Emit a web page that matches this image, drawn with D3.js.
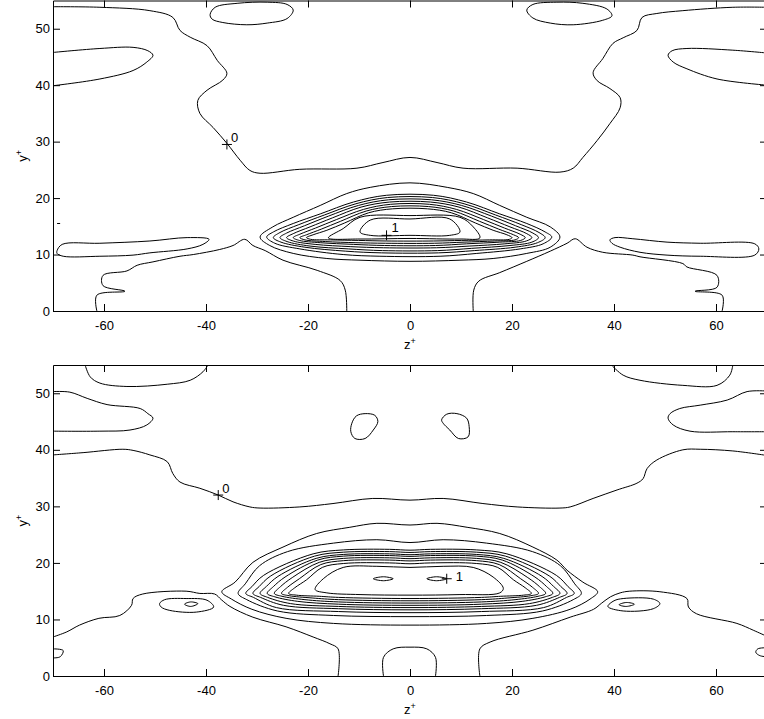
<!DOCTYPE html>
<html>
<head>
<meta charset="utf-8">
<script src="https://cdn.jsdelivr.net/npm/d3@7"></script>
<style>
body { margin: 0; background: #fff; }
svg { display: block; font-family: "Liberation Sans", Arial, sans-serif; }
.contour { fill: none; stroke: #000; stroke-width: 1; }
</style>
</head>
<body>
<div id="main"></div>
<script>
// axes
const zDomain = [-70, 70];
const yDomain = [0, 55];
const zTicks = [-60, -40, -20, 0, 20, 40, 60];
const yTicks = [0, 10, 20, 30, 40, 50];

// ---------- upper panel contours, [z+, y+] ----------
const t0Upper = [[-70,53.9],[-60.8,53.8],[-51.0,53.2],[-46.5,52.0],[-45.1,49.7],[-43.1,48.5],[-39.8,47.0],[-37.8,44.4],[-35.9,42.1],[-36.7,40.9],[-39.8,39.1],[-41.6,37.3],[-41.2,35.0],[-38.6,32.5],[-35.9,29.7],[-33.3,26.7],[-31.4,24.9],[-29.4,24.4],[-21.6,25.1],[-10.4,25.3],[-5.3,26.3],[0,27.2],[5.3,26.3],[10.4,25.3],[21.0,25.3],[29.4,24.6],[32.0,25.3],[33.9,27.2],[36.7,30.2],[39.2,33.2],[41.2,36.0],[41.2,37.8],[39.2,39.4],[36.7,40.8],[35.9,42.2],[37.8,44.7],[39.8,47.4],[41.8,48.4],[44.5,49.7],[45.5,52.0],[48.4,52.7],[53.5,53.2],[63.3,53.8],[70,53.8]];
const t0LowLeft = [[-61.4,0],[-61.4,2.8],[-55.9,3.5],[-60.2,4.5],[-60.2,6.3],[-55.5,7.1],[-53.5,8.1],[-50.4,8.7],[-45.1,9.7],[-42.5,10.0],[-37.3,10.9],[-34.7,11.6],[-32.4,12.7],[-30.8,11.6],[-28.4,10.7],[-24.9,9.0],[-18.2,7.2],[-13.7,5.4],[-12.7,3.7],[-12.4,0]];
const t0LowRight = [[12.4,0],[12.5,3.7],[13.5,5.3],[17.6,6.8],[22.9,8.8],[27.5,10.6],[30.8,12.0],[32.4,12.8],[34.7,11.3],[37.8,10.4],[43.7,9.9],[45.1,9.6],[53.5,8.4],[54.3,7.8],[60.2,6.3],[60.2,4.2],[55.9,3.5],[61.2,2.8],[61.2,0]];
const tLobeLeft = [[-70,45.8],[-60.8,46.5],[-54.3,46.7],[-51.4,46.1],[-50.4,45.3],[-51.6,44.1],[-54.3,42.6],[-60.8,41.1],[-70,39.9]];
const tLobeRight = [[70,45.7],[63.3,46.2],[54.3,46.5],[51.4,46.1],[50.6,45.3],[51.6,44.1],[54.3,42.9],[60.2,41.1],[70,40.0]];
const tDash = [[-69.2,15.5],[-68.6,15.5]];
const tCapLeft = [[-39.2,52.5],[-38.2,53.8],[-33.9,54.5],[-28.0,54.7],[-24.1,54.3],[-22.9,53.3],[-24.1,51.8],[-28.0,51.0],[-32.0,50.7],[-36.7,51.1],[-38.8,51.7]];
const tCapRight = [[22.9,53.3],[24.1,54.3],[28.8,54.7],[33.9,54.5],[38.6,53.5],[39.6,52.3],[37.8,51.5],[32.0,50.7],[27.5,51.0],[24.1,51.9]];
const tStreakLeft = [[-69.2,10.7],[-68.2,11.8],[-60.8,12.0],[-51.0,12.4],[-43.7,13.0],[-39.4,12.7],[-40.6,11.8],[-43.7,11.0],[-51.0,10.3],[-54.3,9.9],[-60.8,9.7],[-68.0,9.7],[-69.2,10.2]];
const tStreakRight = [[39.2,12.6],[40.2,13.0],[43.7,12.8],[50.4,12.2],[56.9,12.0],[67.6,11.9],[68.4,11.0],[67.6,9.9],[56.9,9.7],[50.4,9.9],[45.1,10.4],[41.2,11.3],[39.6,12.0]];
const tLevel1 = [[-29.4,13.1],[-26.9,14.9],[-22.9,16.6],[-17.6,18.7],[-12.4,20.8],[-7.8,21.9],[0,22.7],[7.3,21.9],[12.4,20.8],[17.6,18.7],[22.9,16.6],[27.5,14.9],[29.4,13.1],[27.5,11.3],[22.9,10.2],[16.3,9.3],[9.8,9.0],[0,8.8],[-9.8,9.0],[-16.3,9.3],[-22.9,10.2],[-27.5,11.6]];
const tLevel2 = [[-28.1,13.1],[-26.8,14.0],[-22.9,15.5],[-17.6,17.2],[-11.1,19.3],[-4.6,20.5],[4.6,20.5],[11.1,19.3],[17.6,17.2],[22.9,15.5],[26.5,14.0],[27.8,13.1],[26.1,11.9],[21.6,11.0],[13.1,10.2],[5.9,9.7],[-5.9,9.7],[-13.1,10.0],[-21.6,11.0],[-26.5,12.0]];
const tLevel3 = [[-26.8,13.0],[-25.5,13.9],[-21.8,15.3],[-16.8,17.0],[-10.6,19.0],[-4.4,20.1],[4.4,20.1],[10.6,19.0],[16.8,17.0],[21.8,15.3],[25.3,13.9],[26.5,13.0],[25.0,12.1],[20.6,11.3],[12.6,10.7],[5.6,10.3],[-5.6,10.3],[-12.6,10.6],[-20.6,11.3],[-25.3,12.2]];
const tLevel4 = [[-25.5,13.0],[-24.2,13.8],[-20.7,15.1],[-16.0,16.8],[-10.1,18.7],[-4.2,19.7],[4.2,19.7],[10.1,18.7],[16.0,16.8],[20.7,15.1],[24.1,13.8],[25.2,13.0],[23.9,12.2],[19.6,11.6],[12.1,11.1],[5.4,10.7],[-5.4,10.7],[-12.1,11.0],[-19.6,11.5],[-24.1,12.3]];
const tLevel5 = [[-24.2,13.0],[-22.9,13.7],[-19.6,14.9],[-15.2,16.5],[-9.6,18.4],[-4.0,19.3],[4.0,19.3],[9.6,18.4],[15.2,16.5],[19.6,14.9],[22.9,13.7],[23.9,13.0],[22.8,12.4],[18.6,11.9],[11.6,11.5],[5.2,11.2],[-5.2,11.2],[-11.6,11.4],[-18.6,11.8],[-22.9,12.4]];
const tLevel6 = [[-22.9,13.0],[-21.6,13.6],[-18.5,14.7],[-14.4,16.2],[-9.1,18.0],[-3.8,18.9],[3.8,18.9],[9.1,18.0],[14.4,16.2],[18.5,14.7],[21.6,13.6],[22.6,13.0],[21.7,12.5],[17.6,12.2],[11.1,11.9],[5.0,11.6],[-5.0,11.6],[-11.1,11.8],[-17.6,12.1],[-21.7,12.5]];
const tLevel7 = [[-21.6,13.0],[-20.3,13.5],[-17.4,14.5],[-13.6,15.9],[-8.6,17.7],[-3.6,18.5],[3.6,18.5],[8.6,17.7],[13.6,15.9],[17.4,14.5],[20.3,13.5],[21.3,13.0],[20.6,12.6],[16.6,12.4],[10.6,12.2],[4.8,12.0],[-4.8,12.0],[-10.6,12.1],[-16.6,12.3],[-20.6,12.6]];
const tLevel8 = [[-20.3,13.0],[-19.0,13.5],[-16.3,14.3],[-12.8,15.6],[-8.1,17.4],[-3.4,18.1],[3.4,18.1],[8.1,17.4],[12.8,15.6],[16.3,14.3],[19.0,13.5],[20.0,13.0],[19.5,12.7],[15.6,12.6],[10.1,12.5],[4.6,12.4],[-4.6,12.4],[-10.1,12.5],[-15.6,12.6],[-19.5,12.7]];
const tLevel9 = [[-16.0,12.95],[-13.1,14.6],[-9.8,16.6],[0,16.9],[9.8,16.6],[12.4,14.9],[13.7,12.95],[9.8,12.75],[0,12.85],[-9.8,12.75]];
const tLevel10 = [[-9.8,14.0],[-7.8,16.1],[0,16.3],[7.8,16.3],[9.8,14.0],[7.8,13.4],[0,13.4],[-7.8,13.4]];
const tMarks = [[-35.9, 29.5, "0"], [-4.6, 13.4, "1"]];

// ---------- lower panel contours ----------
const b0CapLeft = [[-63.7,55],[-62.7,52.9],[-60.8,51.8],[-55.5,51.2],[-47.6,51.6],[-43.1,52.3],[-40.6,53.8],[-39.6,55]];
const b0CapRight = [[39.5,55],[41.8,53.2],[45.1,52.3],[53.5,51.4],[60.2,51.4],[62.7,53.2],[63.3,55]];
const bLobeLeft = [[-70,50.3],[-66.7,50.2],[-63.3,49.1],[-59.4,48.0],[-52.9,47.3],[-51.4,46.4],[-50.4,45.6],[-51.6,44.4],[-54.9,43.5],[-60.8,43.3],[-70,43.3]];
const bLobeRight = [[70,50.4],[66.1,50.3],[62.2,48.8],[56.9,47.9],[52.9,47.3],[51.0,46.4],[50.6,45.6],[51.6,44.4],[54.9,43.3],[63.3,43.2],[70,43.2]];
const b0Upper = [[-70,39.1],[-64.1,39.5],[-56.3,40.1],[-54.3,39.9],[-51.0,39.1],[-47.6,37.9],[-46.5,35.8],[-45.1,34.3],[-41.2,33.2],[-37.6,32.0],[-34.7,30.8],[-31.4,29.9],[-29.4,29.7],[-21.6,29.9],[-15.1,30.5],[-7.3,31.4],[0,31.1],[6.5,31.4],[14.3,30.5],[21.0,29.9],[29.4,29.7],[31.4,29.9],[35.9,31.4],[40.6,32.9],[44.5,34.1],[45.7,34.9],[46.5,36.7],[48.4,38.2],[53.5,40.0],[56.9,40.1],[63.3,39.8],[70,39.0]];
const b0LowLeft = [[-70,6.9],[-67.3,7.8],[-64.8,9.0],[-61.0,10.2],[-56.9,10.7],[-54.6,12.5],[-54.3,13.7],[-52.4,14.5],[-43.9,15.0],[-41.2,14.6],[-38.3,14.5],[-37.0,13.5],[-35.3,12.3],[-30.8,10.4],[-24.3,8.7],[-19.0,6.9],[-15.7,5.7],[-14.1,4.8],[-14.1,0]];
const b0LowRight = [[13.7,0],[13.7,4.8],[15.7,6.0],[24.1,8.1],[31.4,10.4],[36.0,11.8],[37.6,12.9],[39.3,14.0],[41.2,14.7],[43.1,15.0],[49.0,14.9],[54.3,13.7],[54.6,12.2],[56.2,11.0],[64.1,9.3],[67.3,8.1],[70,7.0]];
const bArch = [[-5.2,0],[-5.2,3.3],[-3.3,4.8],[0,5.1],[3.3,4.8],[5.0,3.3],[5.0,0]];
const bCornerLeft = [[-70,4.8],[-68.0,4.5],[-68.6,3.4],[-70,3.2]];
const bCornerRight = [[70,5.0],[68.2,4.8],[67.8,4.2],[68.6,3.6],[70,3.4]];
const bBlobLeft = [[-11.4,44.7],[-10.5,46.0],[-8.8,46.4],[-6.9,46.1],[-6.3,45.0],[-7.2,43.5],[-8.8,42.0],[-10.8,42.0],[-11.6,43.2]];
const bBlobRight = [[6.2,45.3],[7.2,46.3],[9.2,46.4],[11.1,45.6],[11.6,44.1],[11.4,42.3],[9.5,42.0],[7.8,43.5],[6.5,44.7]];
const bRingLeft = [[-49.1,12.8],[-48.1,13.5],[-43.9,13.7],[-39.8,13.4],[-38.5,12.2],[-41.9,11.3],[-47.1,11.6],[-48.8,12.2]];
const bDotLeft = [[-44.2,12.7],[-43.0,13.1],[-41.6,12.8],[-43.0,12.3]];
const bRingRight = [[38.8,12.3],[40.0,13.3],[41.8,13.7],[47.7,13.6],[49.0,12.8],[47.7,11.9],[41.8,11.5]];
const bDotRight = [[41.0,12.6],[42.4,13.0],[44.0,12.7],[42.4,12.3]];
const bLevel1 = [[-36.9,14.9],[-34.3,16.6],[-30.8,20.1],[-24.9,22.8],[-18.3,25.2],[-11.8,26.3],[-6.5,27.0],[0,26.7],[5.3,27.0],[11.2,26.3],[17.6,25.2],[24.1,22.8],[28.8,20.5],[30.8,18.7],[33.9,16.6],[36.8,14.9],[35.3,13.6],[31.4,11.8],[24.1,10.2],[15.0,9.3],[0,9.0],[-15.0,9.3],[-24.3,10.2],[-31.0,11.8],[-35.0,13.6]];
const bLevel2 = [[-33.7,14.6],[-32.3,16.3],[-29.5,19.5],[-24,22.0],[-15,23.5],[-6.5,24.1],[0,23.6],[6.5,24.1],[15,23.5],[24,22.0],[29.5,19.5],[32.3,16.3],[33.6,14.6],[32,13.5],[26,11.5],[15,10.7],[0,10.5],[-15,10.7],[-26,11.5],[-32,13.5]];
const bLevel3 = [[-32.2,14.6],[-31.0,15.8],[-28.7,17.8],[-19.0,21.6],[-13,22.3],[-4,22.4],[0,22.25],[4,22.4],[13,22.3],[19.0,21.6],[28.7,17.8],[31.0,15.8],[32.2,14.6],[30.7,13.9],[26.2,12.1],[14,11.4],[0,11.2],[-14,11.4],[-26.2,12.1],[-30.7,13.9]];
const bLevel4 = [[-30.8,14.6],[-29.6,15.8],[-27.3,17.7],[-18.7,21.2],[-13,21.9],[-4,22.0],[0,21.85],[4,22.0],[13,21.9],[18.7,21.2],[27.3,17.7],[29.6,15.8],[30.8,14.6],[29.3,13.9],[24.8,12.5],[14,11.9],[0,11.7],[-14,11.9],[-24.8,12.5],[-29.3,13.9]];
const bLevel5 = [[-29.4,14.6],[-28.2,15.8],[-25.9,17.6],[-18.4,20.8],[-13,21.5],[-4,21.6],[0,21.45],[4,21.6],[13,21.5],[18.4,20.8],[25.9,17.6],[28.2,15.8],[29.4,14.6],[27.9,13.9],[23.4,12.8],[14,12.3],[0,12.1],[-14,12.3],[-23.4,12.8],[-27.9,13.9]];
const bLevel6 = [[-28.0,14.6],[-26.8,15.8],[-24.5,17.5],[-18.1,20.5],[-13,21.2],[-4,21.3],[0,21.15],[4,21.3],[13,21.2],[18.1,20.5],[24.5,17.5],[26.8,15.8],[28.0,14.6],[26.5,14.0],[22.0,13.2],[14,12.7],[0,12.5],[-14,12.7],[-22.0,13.2],[-26.5,14.0]];
const bLevel7 = [[-26.6,14.6],[-25.4,15.8],[-23.1,17.4],[-17.8,20.1],[-13,20.8],[-4,20.9],[0,20.75],[4,20.9],[13,20.8],[17.8,20.1],[23.1,17.4],[25.4,15.8],[26.6,14.6],[25.1,14.1],[20.6,13.5],[14,13.1],[0,12.9],[-14,13.1],[-20.6,13.5],[-25.1,14.1]];
const bLevel8 = [[-25.2,14.6],[-24.0,15.7],[-21.7,17.2],[-17.5,19.7],[-13,20.4],[-4,20.5],[0,20.35],[4,20.5],[13,20.4],[17.5,19.7],[21.7,17.2],[24.0,15.7],[25.2,14.6],[23.7,14.2],[19.2,13.8],[14,13.5],[0,13.3],[-14,13.5],[-19.2,13.8],[-23.7,14.2]];
const bLevel9 = [[-23.8,14.6],[-22.6,15.6],[-20.3,17.0],[-17.2,19.2],[-13,19.9],[-4,20.0],[0,19.85],[4,20.0],[13,19.9],[17.2,19.2],[20.3,17.0],[22.6,15.6],[23.8,14.6],[22.3,14.3],[17.8,14.1],[14,13.9],[0,13.7],[-14,13.9],[-17.8,14.1],[-22.3,14.3]];
const bLevel10 = [[-18.6,15.3],[-17.0,17.2],[-13.1,19.2],[-6.5,19.4],[0,19.2],[6.5,19.4],[12.4,19.2],[16.3,17.5],[18.3,15.5],[17.6,14.7],[9.8,14.4],[0,14.3],[-9.8,14.4],[-16.3,14.7]];
const bPeakLeft = [[-7.2,17.2],[-5.2,17.55],[-3.3,17.2],[-5.2,16.85]];
const bPeakRight = [[3.3,17.2],[5.2,17.55],[7.2,17.2],[5.2,16.85]];
const bMarks = [[-37.6, 32.0, "0"], [7.2, 17.2, "1"]];

const topOpen = [t0Upper, t0LowLeft, t0LowRight, tLobeLeft, tLobeRight, tDash];
const topClosed = [tCapLeft, tCapRight, tStreakLeft, tStreakRight, tLevel1, tLevel2, tLevel3, tLevel4, tLevel5, tLevel6, tLevel7, tLevel8, tLevel9, tLevel10];
const botOpen = [b0CapLeft, b0CapRight, bLobeLeft, bLobeRight, b0Upper, b0LowLeft, b0LowRight, bArch, bCornerLeft, bCornerRight];
const botClosed = [bBlobLeft, bBlobRight, bRingLeft, bDotLeft, bRingRight, bDotRight, bLevel1, bLevel2, bLevel3, bLevel4, bLevel5, bLevel6, bLevel7, bLevel8, bLevel9, bLevel10, bPeakLeft, bPeakRight];

const ctx = { W: 764, H: 719, LEFT: 53, RIGHT: 767 };

function drawPanel(svg, top, bottom, openLines, closedLines, marks, labelShift, id) {
    let x = d3.scaleLinear().domain(zDomain).range([ctx.LEFT, ctx.RIGHT]);
    let y = d3.scaleLinear().domain(yDomain).range([bottom, top]);

    svg.append("clipPath").attr("id", id)
        .append("rect")
        .attr("x", ctx.LEFT).attr("y", top)
        .attr("width", ctx.RIGHT - ctx.LEFT).attr("height", bottom - top);

    let g = svg.append("g").attr("clip-path", "url(#" + id + ")");
    let openLine = d3.line().x(d => x(d[0])).y(d => y(d[1])).curve(d3.curveCatmullRom.alpha(0.5));
    let closedLine = d3.line().x(d => x(d[0])).y(d => y(d[1])).curve(d3.curveCatmullRomClosed.alpha(0.5));

    g.selectAll("path.open").data(openLines).enter()
        .append("path").attr("class", "contour open").attr("d", openLine);
    g.selectAll("path.closed").data(closedLines).enter()
        .append("path").attr("class", "contour closed").attr("d", closedLine);

    // clabel style markers
    marks.forEach((m, i) => {
        let px = x(m[0]), py = y(m[1]);
        svg.append("path")
            .attr("d", `M${px - 5},${py}H${px + 5}M${px},${py - 5}V${py + 5}`)
            .attr("stroke", "#000").attr("stroke-width", 1);
        svg.append("text")
            .attr("x", px + labelShift[i][0]).attr("y", py + labelShift[i][1])
            .attr("font-size", 13).attr("fill", "#000").text(m[2]);
    });

    // axes, ticks inside
    let fmt = d => String(d);
    let axB = svg.append("g").attr("transform", `translate(0,${bottom})`)
        .call(d3.axisBottom(x).tickValues(zTicks).tickSize(-7).tickSizeOuter(0).tickPadding(10).tickFormat(fmt));
    let axT = svg.append("g").attr("transform", `translate(0,${top})`)
        .call(d3.axisTop(x).tickValues(zTicks).tickSize(-7).tickSizeOuter(0).tickFormat(""));
    let axL = svg.append("g").attr("transform", `translate(${ctx.LEFT},0)`)
        .call(d3.axisLeft(y).tickValues(yTicks).tickSize(-7).tickSizeOuter(0).tickPadding(3).tickFormat(fmt));
    let axR = svg.append("g").attr("transform", `translate(${ctx.RIGHT},0)`)
        .call(d3.axisRight(y).tickValues(yTicks).tickSize(-7).tickSizeOuter(0).tickFormat(""));
    [axB, axT, axL, axR].forEach(a => {
        a.attr("font-family", null).attr("font-size", 13);
        a.selectAll("path, line").attr("stroke", "#000");
        a.selectAll("text").attr("fill", "#000");
    });

    // axis titles
    let zt = svg.append("text").attr("x", 410).attr("y", bottom + 38)
        .attr("text-anchor", "middle").attr("font-size", 13).attr("fill", "#000");
    zt.append("tspan").text("z");
    zt.append("tspan").attr("dy", -5).attr("font-size", 9).text("+");

    let mid = (top + bottom) / 2;
    let yt = svg.append("text")
        .attr("transform", `translate(27,${mid}) rotate(-90)`)
        .attr("text-anchor", "middle").attr("font-size", 13).attr("fill", "#000");
    yt.append("tspan").text("y");
    yt.append("tspan").attr("dy", -5).attr("font-size", 9).text("+");
}

function createViz() {
    let svg = d3.select("#main").append("svg")
        .attr("width", ctx.W).attr("height", ctx.H);
    drawPanel(svg, 0.5, 311, topOpen, topClosed, tMarks, [[4, -2], [5, -3]], "clipTop");
    drawPanel(svg, 365, 676, botOpen, botClosed, bMarks, [[4, -2], [9, 2]], "clipBot");
}

createViz();
</script>
</body>
</html>
